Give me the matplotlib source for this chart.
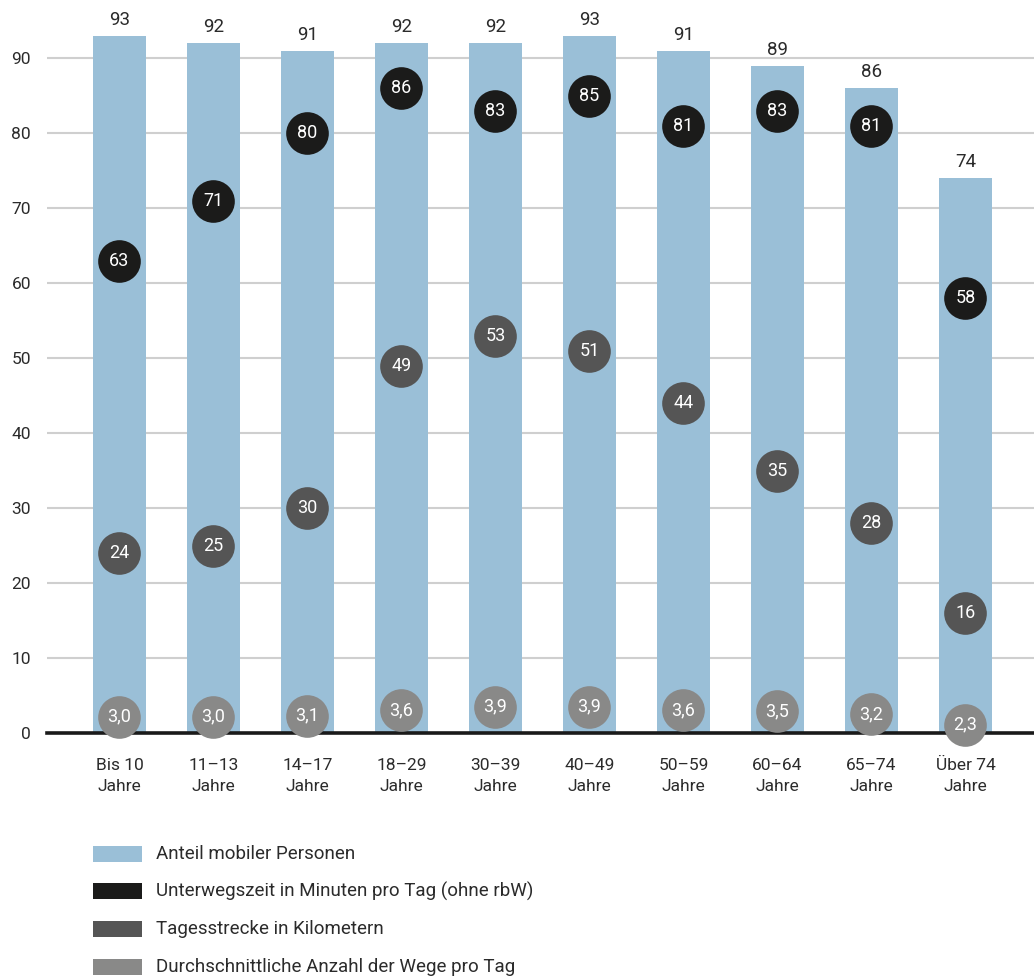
import matplotlib
matplotlib.use("Agg")
import matplotlib.pyplot as plt
from matplotlib.patches import Rectangle

plt.rcParams["font.family"] = ["Roboto", "DejaVu Sans"]

categories = ["Bis 10\nJahre", "11–13\nJahre", "14–17\nJahre", "18–29\nJahre",
              "30–39\nJahre", "40–49\nJahre", "50–59\nJahre", "60–64\nJahre",
              "65–74\nJahre", "Über 74\nJahre"]
anteil_mobil = [93, 92, 91, 92, 92, 93, 91, 89, 86, 74]
unterwegszeit = [63, 71, 80, 86, 83, 85, 81, 83, 81, 58]
tagesstrecke = [24, 25, 30, 49, 53, 51, 44, 35, 28, 16]
wege_pro_tag = [3.0, 3.0, 3.1, 3.6, 3.9, 3.9, 3.6, 3.5, 3.2, 2.3]
y_ticks = [0, 10, 20, 30, 40, 50, 60, 70, 80, 90]

legend_labels = ["Anteil mobiler Personen",
                 "Unterwegszeit in Minuten pro Tag (ohne rbW)",
                 "Tagesstrecke in Kilometern",
                 "Durchschnittliche Anzahl der Wege pro Tag"]

c_bar = "#9abfd7"
c_zeit = "#1b1b1a"
c_strecke = "#555555"
c_wege = "#898988"
c_text = "#2b2b2b"

W, H = 1034, 980
fig = plt.figure(figsize=(W / 100, H / 100), dpi=100)
ax = fig.add_axes([47 / W, 1 - 733 / H, 1 - 47 / W, 733 / H])

x = list(range(len(categories)))
ax.set_xlim(-0.771, 9.73)
ax.set_ylim(0, 733 / 7.5)

for t in y_ticks[1:]:
    ax.axhline(t, color="#cfcfcf", lw=1.5, zorder=0)
ax.axhline(0, color="#1a1a1a", lw=2.6, zorder=5, clip_on=False)

ax.bar(x, anteil_mobil, width=0.564, color=c_bar, zorder=1)
for xi, v in zip(x, anteil_mobil):
    ax.annotate(f"{v}", (xi, v), xytext=(0, 5), textcoords="offset points",
                ha="center", va="bottom", fontsize=13.5, color=c_text)

# small-scale circles for the number of trips: spread over the lower band
wege_pos = [1.5 * (v - 1.55) for v in wege_pro_tag]

s = 30.7 ** 2
for series, pos, col, fmt in [
    (unterwegszeit, unterwegszeit, c_zeit, "{:.0f}"),
    (tagesstrecke, tagesstrecke, c_strecke, "{:.0f}"),
    (wege_pro_tag, wege_pos, c_wege, "{:.1f}"),
]:
    ax.scatter(x, pos, s=s, color=col, zorder=6, clip_on=False, linewidths=0)
    for xi, v, p in zip(x, series, pos):
        ax.text(xi, p, fmt.format(v).replace(".", ","), ha="center", va="center",
                color="white", fontsize=13, zorder=7, clip_on=False)

ax.set_yticks(y_ticks)
ax.set_yticklabels([str(t) for t in y_ticks])
ax.set_xticks(x)
ax.set_xticklabels(categories, linespacing=1.5)
ax.tick_params(axis="both", length=0, labelsize=12.5, colors=c_text)
ax.tick_params(axis="y", pad=11.5)
ax.tick_params(axis="x", pad=18)
for sp in ax.spines.values():
    sp.set_visible(False)

# legend rows
rows_y = [854, 891, 929, 967]
for yy, col, lab in zip(rows_y, [c_bar, c_zeit, c_strecke, c_wege], legend_labels):
    fig.add_artist(Rectangle((93 / W, 1 - (yy + 8) / H), 49 / W, 16 / H,
                             transform=fig.transFigure, color=col, lw=0))
    fig.text(156 / W, 1 - yy / H, lab, ha="left", va="center",
             fontsize=13.5, color=c_text)

fig.savefig("out.png", dpi=100)
